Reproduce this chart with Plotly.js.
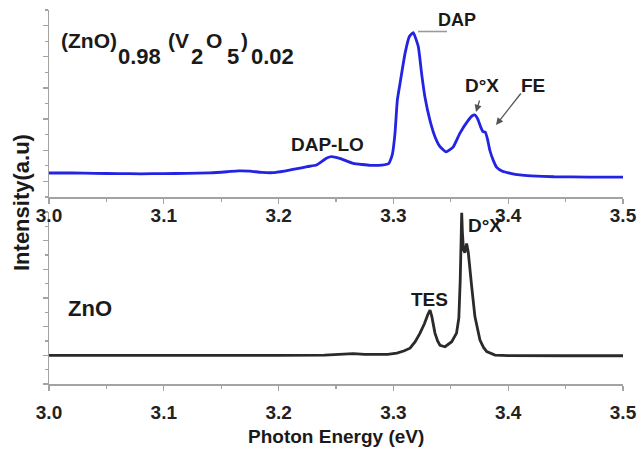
<!DOCTYPE html>
<html>
<head>
<meta charset="utf-8">
<script src="https://cdn.plot.ly/plotly-3.0.1.min.js"></script>
<style>
  html, body { margin: 0; padding: 0; background: #fff; }
  #chart { width: 644px; height: 450px; }
</style>
</head>
<body>
<div id="chart"></div>
<script>
// Photoluminescence spectra, intensity in arbitrary units.

// (ZnO)0.98(V2O5)0.02 sample (upper panel)
const energyDoped = [
  3.000, 3.020, 3.040, 3.060, 3.080, 3.100, 3.120, 3.140, 3.155, 3.165,
  3.175, 3.185, 3.195, 3.205, 3.215, 3.225, 3.233, 3.238, 3.242, 3.246,
  3.2532, 3.265, 3.280, 3.290, 3.296, 3.299, 3.3014, 3.3034, 3.3058, 3.3101, 3.3139,
  3.3173, 3.3217, 3.3246, 3.3275, 3.3319, 3.3362, 3.3406, 3.3458, 3.352, 3.358,
  3.365, 3.3685, 3.371, 3.3735, 3.376, 3.378, 3.380, 3.382, 3.384, 3.387,
  3.390, 3.395, 3.402, 3.410, 3.420, 3.440, 3.470, 3.500
];
const intensityDoped = [
  1.54, 1.55, 1.52, 1.50, 1.49, 1.50, 1.52, 1.55, 1.62, 1.68,
  1.66, 1.58, 1.56, 1.66, 1.80, 1.95, 2.05, 2.30, 2.50, 2.59,
  2.48, 2.16, 2.03, 2.05, 2.15, 2.70, 4.10, 6.20, 7.30, 9.20, 10.30,
  10.55, 9.65, 7.90, 6.40, 4.90, 3.87, 3.23, 2.90, 3.20, 4.10,
  4.90, 5.20, 5.26, 5.00, 4.50, 4.20, 4.17, 3.70, 3.00, 2.35,
  1.90, 1.65, 1.52, 1.42, 1.36, 1.30, 1.28, 1.27
];

// Undoped ZnO sample (lower panel)
const energyZnO = [
  3.000, 3.050, 3.100, 3.150, 3.200, 3.240, 3.255, 3.265, 3.275, 3.285,
  3.295, 3.303, 3.309, 3.3145, 3.319, 3.3232, 3.327, 3.330, 3.3319, 3.3335,
  3.3362, 3.3385, 3.3406, 3.345, 3.3508, 3.355, 3.357, 3.3582, 3.3590, 3.3595,
  3.3601, 3.3610, 3.3622, 3.3638, 3.3652, 3.3668, 3.3682, 3.371, 3.3754, 3.3785,
  3.3813, 3.3885, 3.400, 3.450, 3.500
];
const intensityZnO = [
  2.00, 1.99, 1.98, 1.99, 2.00, 2.02, 2.08, 2.12, 2.06, 2.04,
  2.07, 2.15, 2.30, 2.50, 2.95, 3.55, 4.20, 4.85, 5.16, 4.70,
  3.55, 3.00, 2.70, 2.60, 2.95, 3.55, 4.60, 7.20, 10.50, 11.95,
  10.60, 9.40, 9.15, 9.80, 9.20, 7.60, 6.80, 4.70, 3.07, 2.55,
  2.26, 2.02, 1.98, 1.97, 1.97
];

// Peak labels
const peakLabelsDoped = ['DAP', 'D°X', 'FE', 'DAP-LO'];
const peakLabelsZnO = ['D°X', 'TES'];
const sampleLabels = ['ZnO'];
const xAxisTitle = 'Photon Energy (eV)';
const yAxisTitle = 'Intensity(a.u)';

// ---- page geometry (pixels) ----
const M = { l: 49, r: 21, t: 10, b: 66 };
const PW = 644 - M.l - M.r, PH = 450 - M.t - M.b;
function px(x, y) { return { x: (x - M.l) / PW, y: (M.t + PH - y) / PH }; }

const FONT = '"Liberation Sans", Arial, Helvetica, sans-serif';
const AXIS_GRAY = '#a3a3a3';

function xAxis(anchor, standoff) {
  return {
    anchor: anchor, domain: [0, 1], range: [3.0, 3.5],
    tick0: 3.0, dtick: 0.1, tickformat: '.1f',
    showline: true, linecolor: AXIS_GRAY, linewidth: 1.5,
    ticks: 'outside', ticklen: 5, tickwidth: 1.2, tickcolor: AXIS_GRAY,
    minor: { dtick: 0.05, ticks: 'outside', ticklen: 3, tickcolor: AXIS_GRAY, tickwidth: 1.2 },
    showgrid: false, zeroline: false, ticklabelstandoff: standoff,
    tickfont: { family: FONT, size: 19, color: '#222', weight: 'bold' }
  };
}
function yAxis(anchor, domain, tick0) {
  return {
    anchor: anchor, domain: domain, range: [0, 12],
    showticklabels: false, showgrid: false, zeroline: false,
    showline: true, linecolor: AXIS_GRAY, linewidth: 1.5,
    tick0: tick0, dtick: 2, ticks: 'outside', ticklen: 5, tickwidth: 1.2, tickcolor: AXIS_GRAY,
    minor: { tick0: tick0 + 1, dtick: 2, ticks: 'outside', ticklen: 3, tickcolor: AXIS_GRAY, tickwidth: 1.2 }
  };
}

const traces = [
  {
    x: energyZnO, y: intensityZnO, xaxis: 'x', yaxis: 'y',
    type: 'scatter', mode: 'lines',
    line: { color: '#2a2a2a', width: 2.8 }, hoverinfo: 'skip'
  },
  {
    x: energyDoped, y: intensityDoped, xaxis: 'x2', yaxis: 'y2',
    type: 'scatter', mode: 'lines',
    line: { color: '#2323e3', width: 2.8, shape: 'spline', smoothing: 0.4 }, hoverinfo: 'skip'
  }
];

function label(text, x, y, size, anchor) {
  const p = px(x, y);
  return {
    xref: 'paper', yref: 'paper', x: p.x, y: p.y,
    xanchor: anchor || 'center', yanchor: 'middle', showarrow: false,
    text: text, font: { family: FONT, size: size, color: '#1a1a1a', weight: 'bold' }
  };
}
function arrow(hx, hy, tx, ty) {
  const p = px(hx, hy);
  return {
    xref: 'paper', yref: 'paper', x: p.x, y: p.y, text: '',
    showarrow: true, arrowhead: 2, arrowsize: 1.1, arrowwidth: 1.3,
    arrowcolor: '#555', ax: tx - hx, ay: ty - hy
  };
}

const annotations = [
  // composition of the doped sample, written piece by piece
  label('(ZnO)', 59, 40, 21, 'left'),
  label('0.98', 116, 56, 22, 'left'),
  label('(V', 166, 40, 21, 'left'),
  label('2', 189, 56, 22, 'left'),
  label('O', 204, 40, 21, 'left'),
  label('5', 225, 56, 22, 'left'),
  label(')', 239, 40, 21, 'left'),
  label('0.02', 249, 56, 22, 'left'),

  label(peakLabelsDoped[0], 457, 20, 18),
  label(peakLabelsDoped[1], 482, 85, 19),
  label(peakLabelsDoped[2], 533, 85, 19),
  label(peakLabelsDoped[3], 327, 144, 19),
  label(peakLabelsZnO[0], 485, 225, 19),
  label(peakLabelsZnO[1], 429, 299, 19),
  label(sampleLabels[0], 90, 308, 22),

  arrow(476, 112, 480, 99),
  arrow(496, 125, 522, 92),

  label(xAxisTitle, 336, 437, 19),
  Object.assign(label(yAxisTitle, 21, 203, 22), { textangle: -90 })
];

const dapLineA = px(418, 31.5), dapLineB = px(447, 31.5);
const shapes = [
  { type: 'line', xref: 'paper', yref: 'paper',
    x0: dapLineA.x, y0: dapLineA.y, x1: dapLineB.x, y1: dapLineB.y,
    line: { color: '#9a9a9a', width: 1.6 } }
];

const layout = {
  width: 644, height: 450,
  margin: M,
  paper_bgcolor: '#fff', plot_bgcolor: '#fff',
  showlegend: false,
  xaxis: xAxis('y', 6),
  yaxis: yAxis('x', [0, (384 - 212) / PH], 0),
  xaxis2: xAxis('y2', -4),
  yaxis2: yAxis('x2', [(384 - 197) / PH, 1], 1),
  annotations: annotations,
  shapes: shapes
};

Plotly.newPlot('chart', traces, layout, { staticPlot: true, displayModeBar: false });
</script>
</body>
</html>
